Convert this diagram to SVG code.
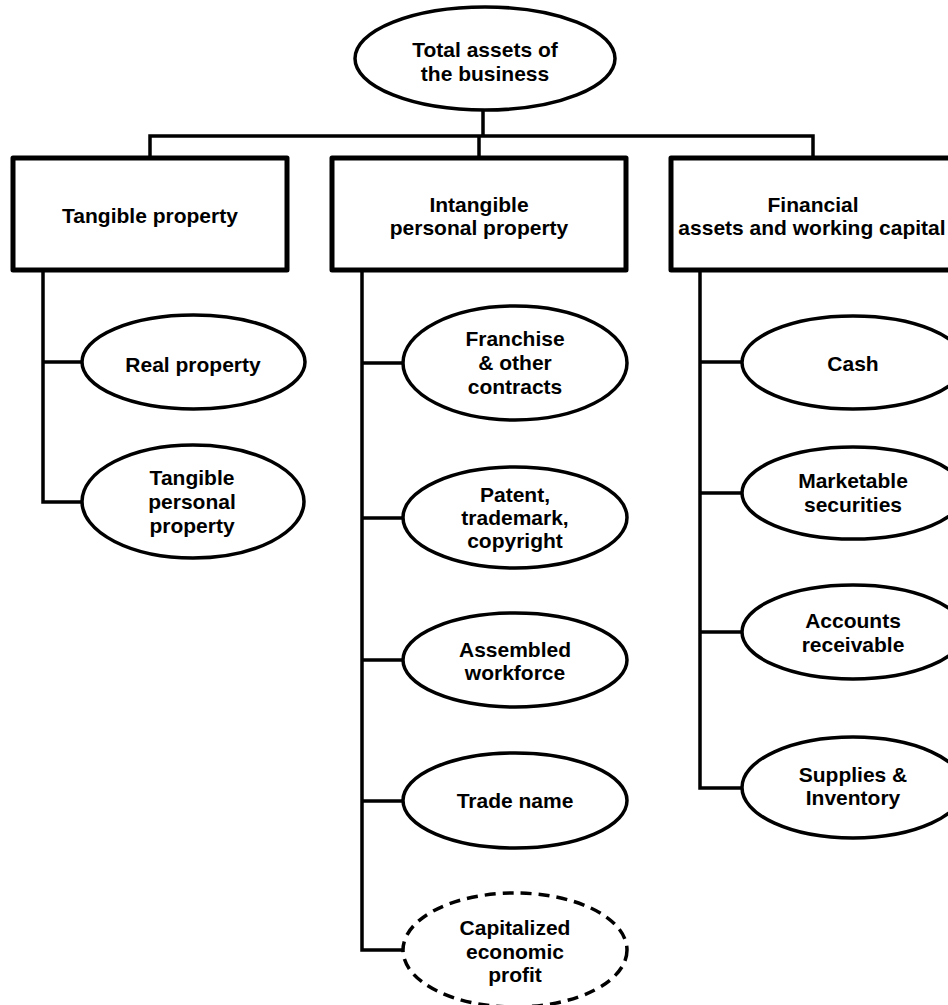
<svg xmlns="http://www.w3.org/2000/svg" width="948" height="1005" viewBox="0 0 948 1005">
<style>
.box{fill:#fff;stroke:#000;stroke-width:5;stroke-linejoin:round}
.ell{fill:#fff;stroke:#000;stroke-width:3.5}
.dash{stroke-dasharray:11 7}
.ln{fill:none;stroke:#000;stroke-width:3.5;stroke-linejoin:miter}
text{font-family:"Liberation Sans",Arial,sans-serif;font-weight:bold;font-size:21px;text-anchor:middle;fill:#000}
</style>
<rect width="948" height="1005" fill="#fff"/>
<g id="connectors">
<path class="ln" d="M483,110 V136 M150,158 V136 H813 V158 M479,136 V158"/>
<path class="ln" d="M43,270 V502 H82 M43,362 H82"/>
<path class="ln" d="M362,270 V950 H403 M362,363 H403 M362,518 H403 M362,660 H403 M362,801 H403"/>
<path class="ln" d="M700,270 V788 H742 M700,362 H742 M700,493 H742 M700,632 H742"/>
</g>
<g id="total-assets">
<ellipse class="ell" cx="485" cy="58.5" rx="130" ry="51.5"/>
<text x="485" y="57">Total assets of</text>
<text x="485" y="81">the business</text>
</g>
<g id="tangible-property">
<rect class="box" x="13" y="158" width="274" height="112"/>
<text x="150" y="223">Tangible property</text>
</g>
<g id="intangible-property">
<rect class="box" x="332" y="158" width="294" height="112"/>
<text x="479" y="212">Intangible</text>
<text x="479" y="235">personal property</text>
</g>
<g id="financial-assets">
<rect class="box" x="671" y="158" width="292" height="112"/>
<text x="813" y="212">Financial</text>
<text x="812" y="235">assets and working capital</text>
</g>
<g id="real-property">
<ellipse class="ell" cx="193.5" cy="362" rx="111.5" ry="47"/>
<text x="193" y="372">Real property</text>
</g>
<g id="tangible-personal-property">
<ellipse class="ell" cx="193" cy="501.5" rx="111" ry="56.5"/>
<text x="192" y="485">Tangible</text>
<text x="192" y="509">personal</text>
<text x="192" y="533">property</text>
</g>
<g id="franchise">
<ellipse class="ell" cx="515" cy="363" rx="112" ry="57"/>
<text x="515" y="346">Franchise</text>
<text x="515" y="370">&amp; other</text>
<text x="515" y="394">contracts</text>
</g>
<g id="patent">
<ellipse class="ell" cx="515" cy="517.5" rx="112" ry="50.5"/>
<text x="515" y="502">Patent,</text>
<text x="515" y="525">trademark,</text>
<text x="515" y="548">copyright</text>
</g>
<g id="assembled-workforce">
<ellipse class="ell" cx="515" cy="660" rx="112" ry="47"/>
<text x="515" y="657">Assembled</text>
<text x="515" y="680">workforce</text>
</g>
<g id="trade-name">
<ellipse class="ell" cx="515" cy="800.5" rx="112" ry="47.5"/>
<text x="515" y="808">Trade name</text>
</g>
<g id="capitalized-economic-profit">
<ellipse class="ell dash" cx="515" cy="950" rx="112" ry="57"/>
<text x="515" y="935">Capitalized</text>
<text x="515" y="959">economic</text>
<text x="515" y="982">profit</text>
</g>
<g id="cash">
<ellipse class="ell" cx="853" cy="362.5" rx="111" ry="46.5"/>
<text x="853" y="371">Cash</text>
</g>
<g id="marketable-securities">
<ellipse class="ell" cx="853" cy="493" rx="111" ry="46"/>
<text x="853" y="488">Marketable</text>
<text x="853" y="512">securities</text>
</g>
<g id="accounts-receivable">
<ellipse class="ell" cx="853" cy="632" rx="111" ry="47"/>
<text x="853" y="628">Accounts</text>
<text x="853" y="652">receivable</text>
</g>
<g id="supplies-inventory">
<ellipse class="ell" cx="853" cy="787.5" rx="111" ry="50.5"/>
<text x="853" y="782">Supplies &amp;</text>
<text x="853" y="805">Inventory</text>
</g>
</svg>
